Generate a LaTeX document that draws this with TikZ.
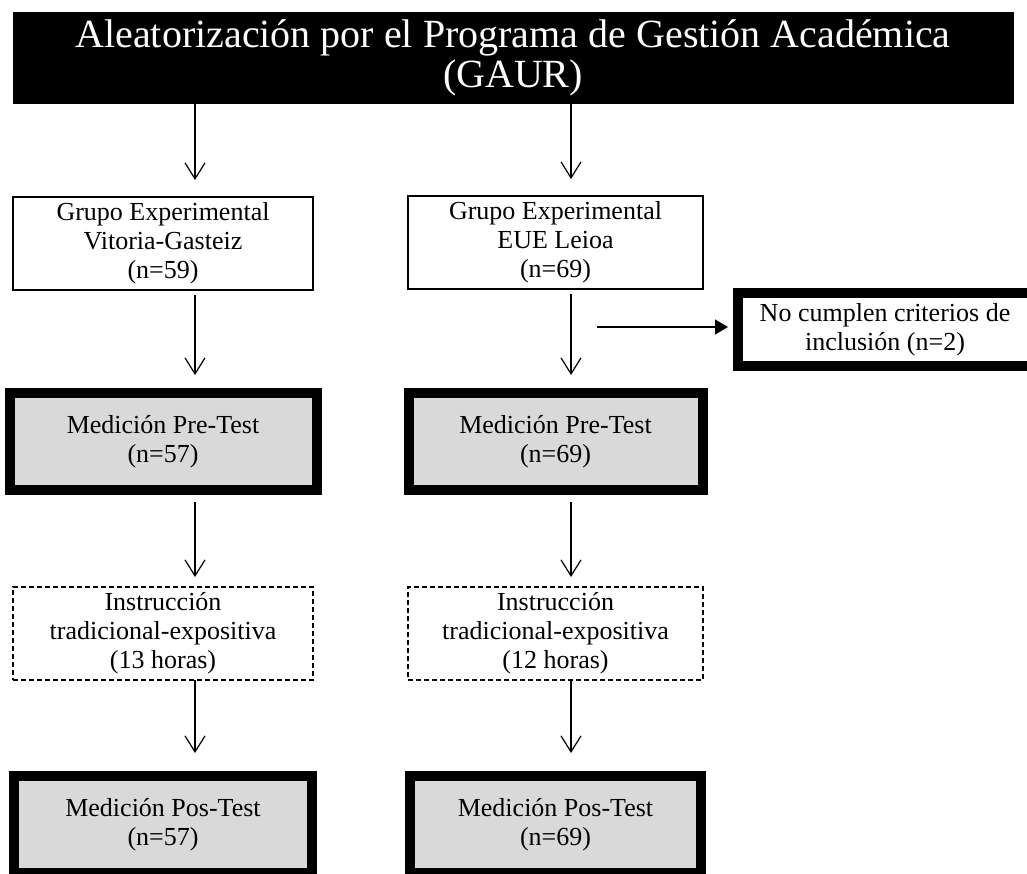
\documentclass[tikz,border=0pt]{standalone}
\usepackage{fontspec}
\setmainfont{Liberation Serif}
\usetikzlibrary{arrows.meta,positioning}
\definecolor{cgray}{RGB}{217,217,217}

\begin{document}
\begin{tikzpicture}[
  x=0.5pt,y=-0.5pt,
  font=\fontsize{13pt}{14.5pt}\selectfont,
  every node/.style={outer sep=0pt,inner sep=2pt,align=center},
  head/.style={draw=black,fill=black,text=white,minimum width=500pt,minimum height=45.5pt,
    font=\fontsize{20pt}{20pt}\selectfont},
  group/.style={draw,line width=0.8pt,minimum height=46.5pt},
  measure/.style={draw,line width=5pt,fill=cgray,minimum height=48.5pt},
  teach/.style={draw,line width=0.9pt,dash pattern=on 2.5pt off 1.5pt,minimum height=46.5pt},
  flow/.style={-{Straight Barb[length=8pt,width=10pt]},line width=0.6pt},
  drop/.style={-{Triangle[length=6.5pt,width=7.5pt]},line width=0.6pt}
]
  \useasboundingbox (0,0) rectangle (1027,873);
  \clip (0,0) rectangle (1027,873);

  \node[head] (gaur) at (513,57.5)
    {Aleatorización por el Programa de Gestión Académica\\(GAUR)};

  % left column
  \node[group,minimum width=150pt] (grupoL) at (163,243.5)
    {Grupo Experimental\\Vitoria-Gasteiz\\(n=59)};
  \node[measure,minimum width=153.5pt,below=51.5pt of grupoL] (preL)
    {Medición Pre-Test\\(n=57)};
  \node[teach,minimum width=150pt,below=48.5pt of preL] (teachL)
    {Instrucción\\tradicional-expositiva\\(13 horas)};
  \node[measure,minimum width=149pt,below=48pt of teachL] (posL)
    {Medición Pos-Test\\(n=57)};

  % right column
  \node[group,minimum width=147.5pt] (grupoR) at (555.5,242.5)
    {Grupo Experimental\\EUE Leioa\\(n=69)};
  \node[measure,minimum width=147pt,below=52pt of grupoR] (preR)
    {Medición Pre-Test\\(n=69)};
  \node[teach,minimum width=147.5pt,below=48.5pt of preR] (teachR)
    {Instrucción\\tradicional-expositiva\\(12 horas)};
  \node[measure,minimum width=145.5pt,below=48pt of teachR] (posR)
    {Medición Pos-Test\\(n=69)};

  % excluded
  \node[draw,line width=5pt,minimum width=147pt,minimum height=36.5pt] (excl) at (885,329.5)
    {No cumplen criterios de\\inclusión (n=2)};

  \coordinate (colL) at (195,0);
  \coordinate (colR) at (571,0);
  \coordinate (split) at (597,327);

  \draw[flow,shorten >=8.5pt] (gaur.south -| colL) -- (grupoL.north -| colL);
  \draw[flow,shorten >=8.5pt] (gaur.south -| colR) -- (grupoR.north -| colR);
  \draw[flow,shorten <=2.5pt,shorten >=9pt] (grupoL.south -| colL) -- (preL.north -| colL);
  \draw[flow,shorten <=2.5pt,shorten >=9pt] (grupoR.south -| colR) -- (preR.north -| colR);
  \draw[flow,shorten <=6pt,shorten >=5pt] (preL.south -| colL) -- (teachL.north -| colL);
  \draw[flow,shorten <=6pt,shorten >=5pt] (preR.south -| colR) -- (teachR.north -| colR);
  \draw[flow,shorten >=11.5pt] (teachL.south -| colL) -- (posL.north -| colL);
  \draw[flow,shorten >=11.5pt] (teachR.south -| colR) -- (posR.north -| colR);
  \draw[drop,shorten >=5pt] (split) -- (excl.west |- split);
\end{tikzpicture}
\end{document}
